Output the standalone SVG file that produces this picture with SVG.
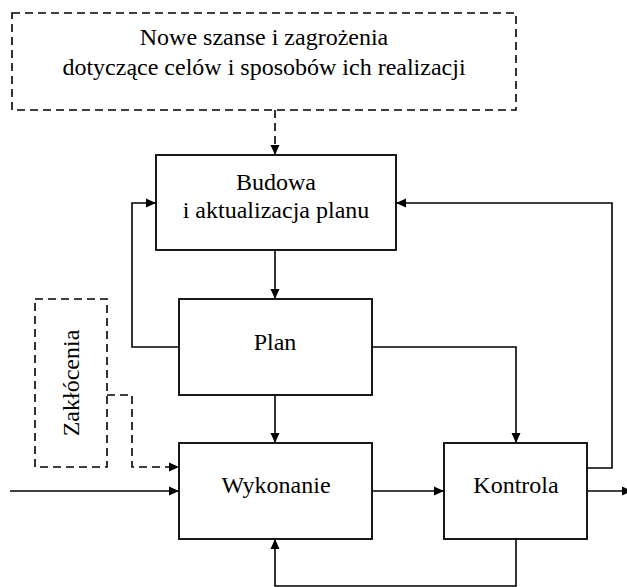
<svg xmlns="http://www.w3.org/2000/svg" width="627" height="587" viewBox="0 0 627 587">
<style>
.box{fill:#fff;stroke:#000;stroke-width:1.8}
.dbox{fill:none;stroke:#000;stroke-width:1.6;stroke-dasharray:8 5}
.ln{fill:none;stroke:#000;stroke-width:1.6}
.dln{fill:none;stroke:#000;stroke-width:1.6;stroke-dasharray:8 5}
text{font-family:"Liberation Serif","Times New Roman",serif;font-size:24px;fill:#000;text-anchor:middle}
</style>
<defs>
<marker id="ah" markerUnits="userSpaceOnUse" markerWidth="10" markerHeight="10" refX="10" refY="4.5" orient="auto" overflow="visible">
<path d="M0,0 L10,4.5 L0,9 Z" fill="#000"/>
</marker>
</defs>
<g id="connectors">
<path class="dln" d="M275,110 V155" marker-end="url(#ah)"/>
<path class="ln" d="M275,250 V299" marker-end="url(#ah)"/>
<path class="ln" d="M275,395 V443" marker-end="url(#ah)"/>
<path class="ln" d="M372,347 H516 V443" marker-end="url(#ah)"/>
<path class="ln" d="M179,347 H132 V203 H156" marker-end="url(#ah)"/>
<path class="ln" d="M587,468 H612 V203 H396" marker-end="url(#ah)"/>
<path class="ln" d="M10,491 H179" marker-end="url(#ah)"/>
<path class="ln" d="M372,491 H444" marker-end="url(#ah)"/>
<path class="ln" d="M587,491 H632" marker-end="url(#ah)"/>
<path class="ln" d="M516,539 V586 H275 V539" marker-end="url(#ah)"/>
<path class="dln" d="M107,395 H132 V467 H179" marker-end="url(#ah)"/>
</g>
<g id="szanse">
<rect class="dbox" x="12" y="13" width="504" height="97"/>
<text x="264" y="45">Nowe szanse i zagrożenia</text>
<text x="264" y="75">dotyczące celów i sposobów ich realizacji</text>
</g>
<g id="budowa">
<rect class="box" x="156" y="155" width="240" height="95"/>
<text x="276" y="190">Budowa</text>
<text x="276" y="218">i aktualizacja planu</text>
</g>
<g id="plan">
<rect class="box" x="179" y="299" width="193" height="96"/>
<text x="275" y="350">Plan</text>
</g>
<g id="zaklocenia">
<rect class="dbox" x="35" y="299" width="72" height="168"/>
<text transform="translate(79,383) rotate(-90)" x="0" y="0">Zakłócenia</text>
</g>
<g id="wykonanie">
<rect class="box" x="179" y="443" width="193" height="96"/>
<text x="276" y="493">Wykonanie</text>
</g>
<g id="kontrola">
<rect class="box" x="444" y="443" width="143" height="96"/>
<text x="516" y="493">Kontrola</text>
</g>
</svg>
